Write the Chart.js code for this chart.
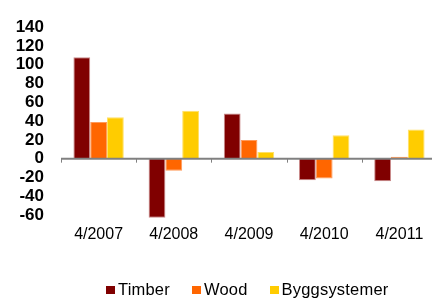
<!DOCTYPE html>
<html>
<head>
<meta charset="utf-8">
<script src="https://cdn.jsdelivr.net/npm/chart.js@4"></script>
<style>
  html, body { margin: 0; padding: 0; background: #fff; overflow: hidden; }
  .wrap { position: relative; width: 437px; height: 298px; }
  .legend {
    position: absolute; left: 106px; top: 280px;
    display: flex; align-items: center;
    font: 16.5px "Liberation Sans", Arial, sans-serif; color: #000;
    letter-spacing: 0.2px;
  }
  .legend .item { display: flex; align-items: center; margin-right: 22px; }
  .legend .box { width: 9px; height: 8px; margin-right: 3px; }
</style>
</head>
<body>
<div class="wrap">
  <canvas id="chart" width="437" height="298"></canvas>
  <div class="legend" id="legend"></div>
</div>
<script>
const categories = ["4/2007", "4/2008", "4/2009", "4/2010", "4/2011"];
const seriesNames = ["Timber", "Wood", "Byggsystemer"];
const timber = [108, -63, 48, -23, -24];
const wood = [39, -13, 20, -21, 2];
const byggsystemer = [44, 51, 7, 25, 31];
const colors = ["#800000", "#ff6600", "#ffcc00"];
const borders = ["#c98a8a", "#ff9a5a", "#ffe066"];

const values = [timber, wood, byggsystemer];

// zero line + small ticks under it at category boundaries
const axisLine = {
  id: "axisLine",
  afterDatasetsDraw(chart) {
    const { ctx, scales } = chart;
    const x = scales.x, y = scales.y;
    const y0 = y.getPixelForValue(0);
    ctx.save();
    ctx.strokeStyle = "#808080";
    ctx.lineWidth = 2;
    ctx.beginPath();
    ctx.moveTo(x.left, y0);
    ctx.lineTo(x.right, y0);
    ctx.stroke();
    ctx.lineWidth = 1;
    const step = (x.right - x.left) / categories.length;
    for (let i = 0; i <= categories.length; i++) {
      const px = Math.round(x.left + i * step) + 0.5;
      ctx.beginPath();
      ctx.moveTo(px, y0);
      ctx.lineTo(px, y0 + 4);
      ctx.stroke();
    }
    ctx.restore();
  },
};

new Chart(document.getElementById("chart"), {
  type: "bar",
  data: {
    labels: categories,
    datasets: seriesNames.map((name, i) => ({
      label: name,
      data: values[i],
      backgroundColor: colors[i],
      borderColor: borders[i],
      borderWidth: 1,
      categoryPercentage: 0.67,
      barPercentage: 1,
      clip: false,
    })),
  },
  options: {
    responsive: false,
    animation: false,
    layout: { padding: { top: 15, right: 0, bottom: 43, left: 0 } },
    plugins: { legend: { display: false }, tooltip: { enabled: false } },
    scales: {
      x: {
        grid: { display: false },
        border: { display: false },
        ticks: {
          color: "#000",
          padding: 2,
          font: { family: "Liberation Sans", size: 16 },
        },
        afterFit: (s) => { s.height = 40; },
      },
      y: {
        min: -60,
        max: 140,
        grid: { display: false, drawTicks: false },
        border: { display: false },
        ticks: {
          stepSize: 20,
          autoSkip: false,
          color: "#000",
          padding: 17,
          font: { family: "Liberation Sans", size: 17, weight: "bold" },
        },
        afterFit: (s) => { s.width = 61; },
      },
    },
  },
  plugins: [axisLine],
});

const legend = document.getElementById("legend");
seriesNames.forEach((name, i) => {
  const item = document.createElement("div");
  item.className = "item";
  item.innerHTML = '<span class="box" style="background:' + colors[i] + '"></span>' + name;
  legend.appendChild(item);
});
</script>
</body>
</html>
